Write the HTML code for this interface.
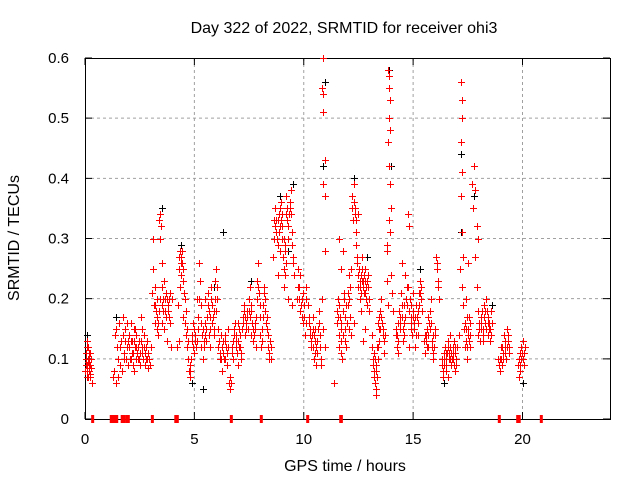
<!DOCTYPE html>
<html><head><meta charset="utf-8">
<style>
html,body{margin:0;padding:0;background:#fff;}
svg{display:block;font-family:"Liberation Sans",sans-serif;}
</style></head>
<body>
<svg id="chart" width="640" height="480" viewBox="0 0 640 480" xmlns="http://www.w3.org/2000/svg">
<rect width="640" height="480" fill="#fff"/>
<text x="344" y="33" font-size="16" text-anchor="middle" fill="#000">Day 322 of 2022, SRMTID for receiver ohi3</text>
<text x="345" y="471" font-size="16" text-anchor="middle" fill="#000">GPS time / hours</text>
<text x="19" y="238" font-size="16" text-anchor="middle" fill="#000" transform="rotate(-90 19 238)">SRMTID / TECUs</text>
<g id="grid"></g>
<g id="axes"></g>
<g id="marks"></g>
</svg>
<script>
const xTicks = [0,5,10,15,20];
const yTicks = [0,0.1,0.2,0.3,0.4,0.5,0.6];
const yTickLabels = ["0","0.1","0.2","0.3","0.4","0.5","0.6"];
const zeroTimes = [0.35,1.2,1.3,1.35,1.45,1.7,1.8,1.93,1.98,3.08,4.15,4.22,6.69,8.06,10.18,11.69,11.72,18.94,19.78,19.85,20.86];
const redData = [
[0.02,0.08],[0.04,0.11],[0.06,0.1],[0.08,0.13],[0.1,0.09],[0.12,0.07],[0.14,0.12],[0.16,0.1],[0.18,0.08],[0.2,0.09],[0.22,0.11],[0.24,0.07],[0.26,0.1],[0.28,0.085],[0.3,0.06],[0.05,0.09],[0.15,0.095],
[1.3,0.07],[1.35,0.14],[1.4,0.06],[1.45,0.12],[1.5,0.1],[1.55,0.16],[1.6,0.09],[1.65,0.13],[1.7,0.08],[1.75,0.17],[1.8,0.11],[1.85,0.15],[1.9,0.12],[1.95,0.09],[2.0,0.14],[2.05,0.1],[2.1,0.16],[2.15,0.13],[2.2,0.11],[2.25,0.08],[2.3,0.15],[2.35,0.12],[2.4,0.1],[2.45,0.13],[2.5,0.09],[2.55,0.17],[2.6,0.12],[2.65,0.1],[2.7,0.14],[2.75,0.09],[2.8,0.12],[2.85,0.1],[2.9,0.085],[1.95,0.13],[2.15,0.11],[2.35,0.14],[2.6,0.11],[2.25,0.13],
[3.0,0.12],[3.05,0.21],[3.1,0.3],[3.12,0.25],[3.15,0.19],[3.2,0.16],[3.25,0.18],[3.3,0.2],[3.35,0.14],[3.4,0.33],[3.42,0.34],[3.45,0.3],[3.5,0.26],[3.52,0.22],[3.55,0.18],[3.6,0.15],[3.65,0.2],[3.7,0.17],[3.75,0.13],[3.8,0.19],[3.85,0.2],[3.9,0.16],[3.95,0.12],[3.3,0.17],[3.5,0.19],[3.6,0.23],
[4.2,0.12],[4.25,0.19],[4.3,0.25],[4.35,0.28],[4.4,0.27],[4.45,0.26],[4.5,0.23],[4.55,0.2],[4.6,0.18],[4.65,0.15],[4.7,0.13],[4.75,0.08],[4.8,0.07],[4.85,0.1],[4.9,0.14],[4.95,0.16],[5.0,0.11],[5.05,0.13],[5.1,0.2],[4.4,0.24],[4.5,0.17],[4.3,0.13],
[5.15,0.15],[5.2,0.26],[5.25,0.23],[5.3,0.19],[5.35,0.14],[5.4,0.1],[5.45,0.12],[5.5,0.16],[5.55,0.13],[5.6,0.21],[5.65,0.18],[5.7,0.15],[5.75,0.22],[5.8,0.19],[5.85,0.17],[5.9,0.14],[5.95,0.23],[6.0,0.25],[6.05,0.2],[6.1,0.12],[6.15,0.1],[6.2,0.14],[6.25,0.08],[6.3,0.13],[6.35,0.1],[6.4,0.14],[6.45,0.12],[6.5,0.09],[6.55,0.15],[5.5,0.2],[5.7,0.12],[5.9,0.18],
[6.6,0.06],[6.65,0.05],[6.7,0.12],[6.75,0.1],[6.8,0.14],[6.85,0.16],[6.9,0.13],[6.95,0.11],[7.0,0.09],[7.05,0.15],[7.1,0.12],[7.15,0.1],[7.2,0.17],[7.25,0.19],[7.3,0.14],[7.35,0.16],[7.4,0.18],[7.45,0.15],[7.5,0.2],[7.55,0.22],[7.6,0.18],[7.65,0.16],[7.7,0.13],[7.75,0.15],[7.8,0.12],[7.85,0.2],[7.9,0.26],[7.95,0.21],[8.0,0.17],[8.05,0.12],[8.1,0.15],[8.15,0.19],[8.2,0.22],[8.25,0.2],[8.3,0.17],[8.35,0.14],[8.4,0.11],[8.45,0.13],[8.5,0.1],[7.0,0.16],[7.6,0.14],
[8.6,0.27],[8.65,0.33],[8.7,0.35],[8.75,0.31],[8.8,0.29],[8.85,0.34],[8.9,0.32],[8.95,0.36],[9.0,0.3],[9.05,0.27],[9.1,0.25],[9.15,0.29],[9.2,0.37],[9.25,0.33],[9.3,0.3],[9.35,0.35],[9.4,0.38],[9.45,0.31],[9.5,0.27],[9.55,0.24],[8.8,0.24],[9.0,0.34],[9.2,0.26],[9.3,0.2],[9.45,0.19],
[9.7,0.2],[9.75,0.25],[9.8,0.22],[9.85,0.18],[9.9,0.2],[9.95,0.16],[10.0,0.19],[10.05,0.14],[10.1,0.22],[10.2,0.19],[10.25,0.16],[10.3,0.14],[10.35,0.12],[10.4,0.15],[10.45,0.1],[10.5,0.13],[10.55,0.09],[10.6,0.11],[10.65,0.15],[10.7,0.18],[10.75,0.12],[10.8,0.09],
[10.9,0.6],[10.85,0.55],[10.88,0.54],[10.9,0.51],[10.95,0.43],[10.9,0.39],[10.95,0.37],[10.95,0.28],[10.85,0.2],[10.9,0.15],[10.95,0.12],
[11.4,0.06],[11.5,0.16],[11.55,0.2],[11.6,0.14],[11.65,0.17],[11.7,0.13],[11.75,0.1],[11.8,0.18],[11.85,0.21],[11.9,0.15],[11.95,0.12],[12.0,0.19],[12.05,0.24],[12.1,0.17],[12.15,0.14],[11.6,0.3],[11.8,0.28],[11.7,0.25],
[12.2,0.37],[12.25,0.33],[12.3,0.39],[12.35,0.35],[12.4,0.29],[12.45,0.26],[12.5,0.22],[12.55,0.2],[12.6,0.24],[12.65,0.27],[12.7,0.23],[12.75,0.21],[12.8,0.25],[12.85,0.22],[12.9,0.19],[12.95,0.24],[13.0,0.18],[12.4,0.31],[12.5,0.34],[12.6,0.18],[12.3,0.16],[12.8,0.15],[12.7,0.13],
[13.1,0.14],[13.15,0.1],[13.2,0.08],[13.25,0.06],[13.3,0.04],[13.35,0.12],[13.4,0.16],[13.45,0.13],[13.5,0.18],[13.55,0.2],[13.6,0.15],[13.65,0.11],[13.7,0.14],[13.25,0.1],[13.35,0.07],[13.45,0.17],
[13.8,0.29],[13.85,0.58],[13.88,0.57],[13.9,0.55],[13.92,0.53],[13.9,0.5],[13.95,0.48],[13.85,0.46],[13.9,0.42],[13.95,0.39],[14.0,0.35],[13.9,0.33],[13.95,0.31],[14.0,0.24],[14.05,0.21],[14.1,0.18],[13.8,0.23],[13.85,0.19],[13.8,0.28],
[14.2,0.14],[14.25,0.12],[14.3,0.16],[14.35,0.18],[14.4,0.15],[14.45,0.21],[14.5,0.17],[14.55,0.13],[14.6,0.19],[14.65,0.24],[14.7,0.22],[14.75,0.34],[14.8,0.32],[14.85,0.2],[14.9,0.17],[14.95,0.14],[15.0,0.18],[15.05,0.15],[15.1,0.12],[15.15,0.19],[15.2,0.16],[15.25,0.21],[15.3,0.23],[15.35,0.2],[15.4,0.18],[14.5,0.26],[14.8,0.12],[15.0,0.21],
[15.5,0.13],[15.55,0.11],[15.6,0.14],[15.65,0.12],[15.7,0.17],[15.75,0.15],[15.8,0.2],[15.85,0.13],[15.9,0.1],[15.95,0.12],[16.0,0.15],[16.05,0.27],[16.1,0.25],[16.15,0.22],[16.2,0.2],
[16.3,0.1],[16.35,0.07],[16.4,0.09],[16.45,0.12],[16.5,0.08],[16.55,0.11],[16.6,0.13],[16.65,0.1],[16.7,0.14],[16.75,0.09],[16.8,0.11],[16.85,0.13],[16.9,0.08],[16.95,0.1],[17.0,0.12],[16.6,0.07],[16.8,0.1],
[17.1,0.14],[17.15,0.25],[17.2,0.56],[17.22,0.53],[17.25,0.5],[17.2,0.46],[17.25,0.41],[17.2,0.37],[17.25,0.31],[17.3,0.27],[17.25,0.22],[17.3,0.19],[17.35,0.16],[17.4,0.13],[17.45,0.1],[17.5,0.14],[17.55,0.17],[17.6,0.12],[17.4,0.2],[17.5,0.26],
[17.7,0.39],[17.75,0.35],[17.8,0.42],[17.85,0.38],[17.9,0.32],[17.95,0.3],[17.85,0.27],[17.9,0.22],[17.95,0.18],[18.0,0.16],[18.05,0.13],[18.1,0.15],[18.15,0.18],[18.2,0.14],[18.25,0.19],[18.3,0.16],[18.35,0.2],[18.4,0.17],[18.45,0.15],[18.5,0.13],[18.55,0.18],[18.6,0.16],
[18.9,0.1],[18.95,0.08],[19.0,0.12],[19.05,0.09],[19.1,0.11],[19.15,0.14],[19.2,0.12],[19.25,0.1],[19.3,0.15],[19.35,0.13],[19.4,0.11],
[19.8,0.09],[19.85,0.07],[19.9,0.11],[19.95,0.1],[20.0,0.13],[20.05,0.09],[20.1,0.12],[19.9,0.08]
];
const redDataExtra = [
[0.03,0.1],[0.07,0.08],[0.11,0.12],[0.17,0.11],[0.21,0.075],[0.25,0.09],[0.09,0.07],[0.13,0.1],
[1.32,0.08],[1.42,0.15],[1.52,0.07],[1.62,0.12],[1.72,0.14],[1.82,0.13],[1.92,0.16],[2.02,0.12],[2.12,0.1],[2.22,0.15],[2.32,0.1],[2.42,0.12],[2.52,0.11],[2.62,0.15],[2.72,0.11],[2.82,0.13],[2.92,0.1],[1.78,0.1],[1.88,0.1],[2.08,0.13],[2.18,0.09],[2.28,0.12],[2.38,0.11],[2.48,0.1],[2.58,0.13],[2.68,0.12],[2.78,0.1],[2.88,0.11],[2.98,0.09],
[3.18,0.22],[3.28,0.15],[3.38,0.18],[3.48,0.32],[3.58,0.2],[3.68,0.21],[3.78,0.18],[3.88,0.21],[3.98,0.2],[3.22,0.19],[3.32,0.16],[3.44,0.2],[3.54,0.16],[3.64,0.18],[3.74,0.2],[3.84,0.17],
[4.28,0.27],[4.32,0.22],[4.38,0.26],[4.42,0.28],[4.48,0.25],[4.52,0.21],[4.58,0.16],[4.62,0.14],[4.68,0.12],[4.72,0.1],[4.78,0.08],[4.82,0.09],[4.88,0.13],[4.92,0.12],[4.98,0.15],[5.02,0.14],[5.08,0.12],
[5.12,0.13],[5.18,0.17],[5.22,0.2],[5.28,0.16],[5.32,0.12],[5.38,0.15],[5.42,0.13],[5.48,0.14],[5.52,0.15],[5.58,0.17],[5.62,0.19],[5.68,0.14],[5.72,0.17],[5.78,0.2],[5.82,0.16],[5.88,0.15],[5.92,0.2],[5.98,0.18],[6.02,0.22],[6.08,0.15],[6.12,0.13],[6.18,0.11],[6.22,0.1],[6.28,0.12],[6.32,0.11],[6.38,0.13],[6.42,0.1],[6.48,0.11],[6.52,0.12],
[6.62,0.07],[6.68,0.06],[6.72,0.11],[6.78,0.13],[6.82,0.15],[6.88,0.12],[6.92,0.14],[6.98,0.13],[7.02,0.12],[7.08,0.14],[7.12,0.11],[7.18,0.15],[7.22,0.16],[7.28,0.18],[7.32,0.17],[7.38,0.15],[7.42,0.17],[7.48,0.18],[7.52,0.17],[7.58,0.19],[7.62,0.16],[7.68,0.15],[7.72,0.14],[7.78,0.16],[7.82,0.17],[7.88,0.23],[7.92,0.22],[7.98,0.19],[8.02,0.14],[8.08,0.13],[8.12,0.17],[8.18,0.21],[8.22,0.18],[8.28,0.16],[8.32,0.15],[8.38,0.12],[8.42,0.1],[8.48,0.12],
[8.62,0.3],[8.68,0.32],[8.72,0.33],[8.78,0.3],[8.82,0.33],[8.88,0.31],[8.92,0.35],[8.98,0.33],[9.02,0.32],[9.08,0.3],[9.12,0.28],[9.18,0.34],[9.22,0.35],[9.28,0.32],[9.32,0.34],[9.38,0.36],[9.42,0.34],[9.48,0.29],[9.52,0.26],[9.08,0.22],[9.12,0.24],[8.92,0.28],
[9.72,0.22],[9.78,0.2],[9.82,0.24],[9.88,0.19],[9.92,0.17],[9.98,0.21],[10.02,0.17],[10.08,0.2],[10.12,0.16],[10.22,0.17],[10.28,0.15],[10.32,0.13],[10.38,0.14],[10.42,0.12],[10.48,0.14],[10.52,0.11],[10.58,0.12],[10.62,0.13],[10.68,0.16],[10.72,0.14],[10.78,0.1],[10.42,0.17],[10.52,0.15],
[11.52,0.18],[11.58,0.17],[11.62,0.19],[11.68,0.15],[11.72,0.16],[11.78,0.14],[11.82,0.2],[11.88,0.17],[11.92,0.19],[11.98,0.16],[12.02,0.21],[12.08,0.2],[12.12,0.22],[12.18,0.25],[11.62,0.12],[11.72,0.11],[11.88,0.13],[12.05,0.15],
[12.22,0.35],[12.28,0.36],[12.32,0.34],[12.38,0.33],[12.42,0.27],[12.48,0.24],[12.52,0.25],[12.58,0.22],[12.62,0.21],[12.68,0.25],[12.72,0.22],[12.78,0.23],[12.82,0.21],[12.88,0.23],[12.92,0.22],[12.98,0.2],[12.55,0.23],[12.65,0.23],[12.75,0.24],[12.85,0.2],
[13.12,0.12],[13.18,0.09],[13.22,0.07],[13.28,0.05],[13.32,0.08],[13.38,0.1],[13.42,0.15],[13.48,0.15],[13.52,0.17],[13.58,0.16],[13.62,0.14],[13.68,0.13],[13.2,0.11],[13.3,0.09],[13.4,0.12],
[14.22,0.15],[14.28,0.14],[14.32,0.13],[14.38,0.16],[14.42,0.17],[14.48,0.19],[14.52,0.15],[14.58,0.16],[14.62,0.17],[14.68,0.2],[14.72,0.19],[14.78,0.22],[14.82,0.18],[14.88,0.15],[14.92,0.16],[14.98,0.17],[15.02,0.16],[15.08,0.17],[15.12,0.14],[15.18,0.17],[15.22,0.18],[15.28,0.19],[15.32,0.21],[15.38,0.22],[14.3,0.11],[14.6,0.14],[14.9,0.19],[15.2,0.14],
[15.52,0.14],[15.58,0.13],[15.62,0.15],[15.68,0.14],[15.72,0.16],[15.78,0.18],[15.82,0.16],[15.88,0.12],[15.92,0.11],[15.98,0.14],[16.08,0.26],[16.12,0.23],[15.7,0.12],[15.9,0.14],
[16.32,0.09],[16.38,0.08],[16.42,0.1],[16.48,0.09],[16.52,0.1],[16.58,0.12],[16.62,0.11],[16.68,0.12],[16.72,0.11],[16.78,0.1],[16.82,0.12],[16.88,0.09],[16.92,0.11],[16.98,0.09],[16.4,0.11],[16.5,0.11],[16.7,0.1],[16.9,0.12],
[17.32,0.15],[17.38,0.12],[17.42,0.15],[17.48,0.12],[17.52,0.15],[17.58,0.14],[17.62,0.16],[17.45,0.17],[17.55,0.13],
[17.98,0.14],[18.02,0.15],[18.08,0.17],[18.12,0.16],[18.18,0.15],[18.22,0.17],[18.28,0.18],[18.32,0.15],[18.38,0.18],[18.42,0.14],[18.48,0.16],[18.52,0.15],[18.58,0.14],[18.2,0.13],[18.4,0.16],
[18.92,0.09],[18.98,0.1],[19.02,0.1],[19.08,0.12],[19.12,0.1],[19.18,0.13],[19.22,0.11],[19.28,0.12],[19.32,0.14],[19.38,0.12],
[19.82,0.1],[19.88,0.09],[19.92,0.12],[19.98,0.11],[20.02,0.1],[20.08,0.11]
];
const blackData = [
[0.1,0.14],[1.4,0.17],[3.5,0.35],[4.4,0.29],[4.9,0.06],[5.4,0.05],[6.3,0.31],[8.9,0.37],[9.5,0.39],[10.95,0.56],[10.9,0.42],[12.3,0.4],[13.9,0.58],[14.0,0.42],[16.4,0.06],[17.2,0.44],[17.2,0.31],[17.8,0.37],[20.0,0.06],[5.9,0.22],[7.6,0.23],[9.3,0.28],[12.9,0.27],[15.3,0.25],[18.6,0.19]
];
(function(){
  const NS = "http://www.w3.org/2000/svg";
  const L = 85, R = 610, T = 58, B = 419;
  const X = t => L + t * (R - L) / 24;
  const Y = v => B - v * (B - T) / 0.6;
  const grid = document.getElementById('grid');
  const axes = document.getElementById('axes');
  const marks = document.getElementById('marks');
  function mk(tag, attrs, parent){
    const e = document.createElementNS(NS, tag);
    for (const k in attrs) e.setAttribute(k, attrs[k]);
    parent.appendChild(e);
    return e;
  }
  yTicks.forEach((v,i) => {
    if (v > 0 && v < 0.6) {
      const g = mk('line',{x1:L,x2:R,y1:Y(v),y2:Y(v),stroke:'#a0a0a0','stroke-dasharray':'3,3','stroke-width':1},grid);
      
      
    }
    const tk = mk('path',{d:`M${L} ${Y(v)}h7M${R} ${Y(v)}h-7`,stroke:'#000','stroke-width':1},axes);
    
    
    const tx = mk('text',{x:L-16,y:Y(v)+5,'font-size':15,'text-anchor':'end',fill:'#000'},axes);
    tx.textContent = yTickLabels[i];
    
    
  });
  xTicks.forEach(t => {
    if (t > 0) {
      const g = mk('line',{x1:X(t),x2:X(t),y1:T,y2:B,stroke:'#a0a0a0','stroke-dasharray':'3,3','stroke-width':1},grid);
      
      
    }
    const tk = mk('path',{d:`M${X(t)} ${B}v-7M${X(t)} ${T}v7`,stroke:'#000','stroke-width':1},axes);
    
    
    const tx = mk('text',{x:X(t),y:B+25,'font-size':15,'text-anchor':'middle',fill:'#000'},axes);
    tx.textContent = String(t);
    
    
  });
  const frame = mk('rect',{x:L+0.5,y:T+0.5,width:R-L,height:B-T,fill:'none',stroke:'#000','stroke-width':1},axes);
  
  
  function plus(data, color, name){
    data.forEach(p => {
      const x = Math.round(X(p[0])) + 0.5, y = Math.round(Y(p[1])) + 0.5;
      const path = mk('path',{d:`M${x-3.5} ${y}h7M${x} ${y-3.5}v7`,stroke:color,'stroke-width':1,fill:'none'},marks);
      
      
    });
  }
  plus(blackData, '#000000', 'black-series-point');
  plus(redData, '#ff0000', 'srmtid-point');
  plus(redDataExtra, '#ff0000', 'srmtid-point');
  zeroTimes.forEach(t => {
    const r = mk('rect',{x:X(t)-1.5,y:B-4,width:3,height:8,fill:'#ff0000'},marks);
    
    
  });
})();
</script>
</body></html>
